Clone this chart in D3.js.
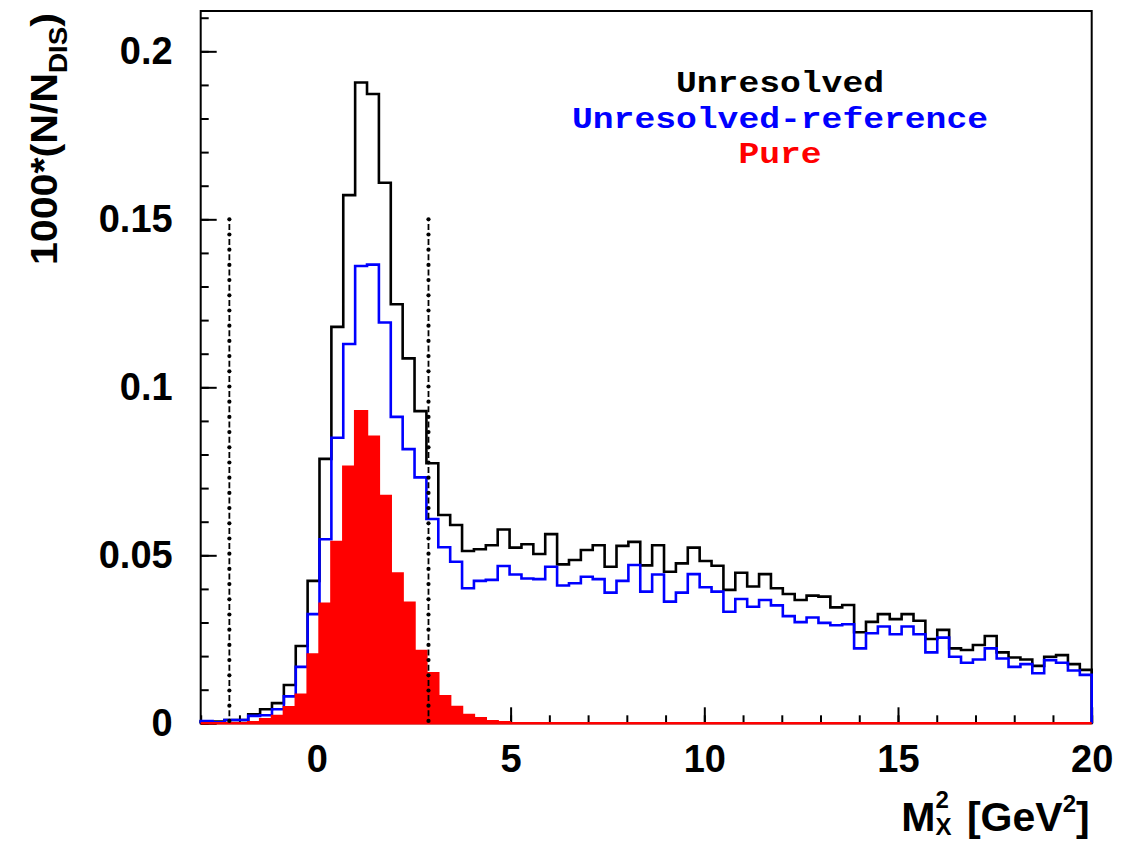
<!DOCTYPE html>
<html>
<head>
<meta charset="utf-8">
<script src="https://cdn.jsdelivr.net/npm/d3@7"></script>
<style>
  body { margin: 0; background: #fff; }
  svg text { font-family: "Liberation Sans", Arial, Helvetica, sans-serif; font-weight: bold; }
</style>
</head>
<body>
<svg id="chart" width="1143" height="842"></svg>
<script>
// Histogram binning: 75 equal bins on M_X^2 from -3 to 20 GeV^2
const binLow = -3;
const binHigh = 20;
const nBins = 75;

// 1000*(N/N_DIS) per bin
const unresolved = [
  0.0005, 0.0005, 0.0010, 0.0010, 0.0027, 0.0042, 0.0060, 0.0114, 0.0230, 0.0424,
  0.0787, 0.1180, 0.1572, 0.1907, 0.1873, 0.1609, 0.1247, 0.1086, 0.0929, 0.0774,
  0.0620, 0.0590, 0.0513, 0.0518, 0.0530, 0.0577, 0.0523, 0.0533, 0.0504, 0.0563,
  0.0473, 0.0486, 0.0516, 0.0530, 0.0466, 0.0528, 0.0540, 0.0470, 0.0530, 0.0451,
  0.0476, 0.0523, 0.0483, 0.0469, 0.0397, 0.0448, 0.0407, 0.0444, 0.0402, 0.0385,
  0.0367, 0.0380, 0.0377, 0.0345, 0.0352, 0.0271, 0.0302, 0.0325, 0.0310, 0.0325,
  0.0305, 0.0251, 0.0278, 0.0223, 0.0218, 0.0233, 0.0260, 0.0211, 0.0196, 0.0190,
  0.0171, 0.0198, 0.0203, 0.0176, 0.0159
];

const unresolvedReference = [
  0.0007, 0.0003, 0.0010, 0.0010, 0.0022, 0.0024, 0.0042, 0.0080, 0.0168, 0.0325,
  0.0548, 0.0850, 0.1129, 0.1361, 0.1365, 0.1193, 0.0912, 0.0816, 0.0732, 0.0608,
  0.0524, 0.0481, 0.0402, 0.0424, 0.0427, 0.0468, 0.0443, 0.0431, 0.0429, 0.0466,
  0.0410, 0.0417, 0.0436, 0.0429, 0.0389, 0.0424, 0.0471, 0.0392, 0.0443, 0.0362,
  0.0389, 0.0444, 0.0405, 0.0392, 0.0332, 0.0370, 0.0347, 0.0367, 0.0351, 0.0319,
  0.0301, 0.0315, 0.0299, 0.0292, 0.0295, 0.0223, 0.0268, 0.0288, 0.0265, 0.0288,
  0.0265, 0.0211, 0.0255, 0.0198, 0.0180, 0.0190, 0.0223, 0.0193, 0.0168, 0.0176,
  0.0149, 0.0188, 0.0180, 0.0157, 0.0144
];

const pure = [
  0.0000, 0.0000, 0.0000, 0.0000, 0.0003, 0.0012, 0.0022, 0.0048, 0.0085, 0.0205,
  0.0356, 0.0540, 0.0764, 0.0929, 0.0853, 0.0677, 0.0446, 0.0359, 0.0215, 0.0149,
  0.0081, 0.0049, 0.0025, 0.0015, 0.0006, 0.0003, 0.0000, 0.0000, 0.0000, 0.0000,
  0.0000, 0.0000, 0.0000, 0.0000, 0.0000, 0.0000, 0.0000, 0.0000, 0.0000, 0.0000,
  0.0000, 0.0000, 0.0000, 0.0000, 0.0000, 0.0000, 0.0000, 0.0000, 0.0000, 0.0000,
  0.0000, 0.0000, 0.0000, 0.0000, 0.0000, 0.0000, 0.0000, 0.0000, 0.0000, 0.0000,
  0.0000, 0.0000, 0.0000, 0.0000, 0.0000, 0.0000, 0.0000, 0.0000, 0.0000, 0.0000,
  0.0000, 0.0000, 0.0000, 0.0000, 0.0000
];

// Axis ticks
const xMajorTicks = [0, 5, 10, 15, 20];
const xMinorTicks = d3.range(-3, 21, 1);
const yMajorTicks = [0, 0.05, 0.1, 0.15, 0.2];
const yMajorLabels = ["0", "0.05", "0.1", "0.15", "0.2"];
const yMinorTicks = d3.range(0, 0.2105, 0.01);
const yMax = 0.212;

// Selection window (vertical cut lines) and their height
const cutPositions = [-2.26, 2.88];
const cutHeight = 0.15;

// Legend entries
const legendLabels = ["Unresolved", "Unresolved-reference", "Pure"];
const legendColors = ["#000000", "#0000ff", "#ff0000"];

// ---------------------------------------------------------------------------
const svg = d3.select("#chart");
const frame = { left: 200.7, right: 1091.7, top: 11, bottom: 723.3 };

const x = d3.scaleLinear().domain([binLow, binHigh]).range([frame.left, frame.right]);
const y = d3.scaleLinear().domain([0, yMax]).range([frame.bottom, frame.top]);

const binWidth = (binHigh - binLow) / nBins;
const edge = i => binLow + i * binWidth;

// Step outline points for a histogram, closed down to zero at both ends
function stepPoints(values) {
  const pts = [[edge(0), 0]];
  values.forEach((v, i) => {
    pts.push([edge(i), v]);
    pts.push([edge(i + 1), v]);
  });
  pts.push([edge(values.length), 0]);
  return pts;
}

const line = d3.line().x(d => x(d[0])).y(d => y(d[1]));
const area = d3.area().x(d => x(d[0])).y0(y(0)).y1(d => y(d[1]));

// Frame
svg.append("rect")
  .attr("x", frame.left).attr("y", frame.top)
  .attr("width", frame.right - frame.left).attr("height", frame.bottom - frame.top)
  .attr("fill", "none").attr("stroke", "#000").attr("stroke-width", 2);

// X axis: minor + major ticks drawn inward, labels below
const xMinor = svg.append("g").attr("transform", `translate(0,${frame.bottom})`)
  .call(d3.axisBottom(x).tickValues(xMinorTicks).tickSize(-8).tickFormat(""));
const xMajor = svg.append("g").attr("transform", `translate(0,${frame.bottom})`)
  .call(d3.axisBottom(x).tickValues(xMajorTicks).tickSize(-16).tickPadding(22).tickFormat(d3.format("d")));
[xMinor, xMajor].forEach(g => {
  g.select(".domain").remove();
  g.selectAll(".tick line").attr("stroke", "#000").attr("stroke-width", 2);
});
xMajor.selectAll(".tick text")
  .attr("font-size", 38).attr("fill", "#000")
  .style("font-family", "'Liberation Sans', Arial, sans-serif").style("font-weight", "bold");

// Y axis
const yMinor = svg.append("g").attr("transform", `translate(${frame.left},0)`)
  .call(d3.axisLeft(y).tickValues(yMinorTicks).tickSize(-8).tickFormat(""));
const yMajor = svg.append("g").attr("transform", `translate(${frame.left},0)`)
  .call(d3.axisLeft(y).tickValues(yMajorTicks).tickSize(-16).tickPadding(28)
    .tickFormat((d, i) => yMajorLabels[i]));
[yMinor, yMajor].forEach(g => {
  g.select(".domain").remove();
  g.selectAll(".tick line").attr("stroke", "#000").attr("stroke-width", 2);
});
yMajor.selectAll(".tick text")
  .attr("font-size", 38).attr("fill", "#000")
  .style("font-family", "'Liberation Sans', Arial, sans-serif").style("font-weight", "bold");

// Histograms
const plot = svg.append("g");

plot.append("path")
  .attr("d", line(stepPoints(unresolved)))
  .attr("fill", "none").attr("stroke", legendColors[0])
  .attr("stroke-width", 2.6).attr("stroke-linejoin", "miter");

plot.append("path")
  .attr("d", line(stepPoints(unresolvedReference)))
  .attr("fill", "none").attr("stroke", legendColors[1])
  .attr("stroke-width", 2.6).attr("stroke-linejoin", "miter");

plot.append("path")
  .attr("d", area(stepPoints(pure)))
  .attr("fill", legendColors[2]).attr("stroke", legendColors[2])
  .attr("stroke-width", 2.4);

// Cut lines: dash segments with round dots between them (drawn top-down)
const cutGroup = plot.append("g");
cutGroup.selectAll("line.cut").data(cutPositions).join("line")
  .attr("class", "cut")
  .attr("x1", d => x(d)).attr("x2", d => x(d))
  .attr("y1", y(cutHeight)).attr("y2", y(0))
  .attr("stroke", "#000").attr("stroke-width", 1.8)
  .attr("stroke-dasharray", "0,4.6,6,4.6");
cutPositions.forEach(c => {
  const top = y(cutHeight), bottom = y(0);
  const dots = d3.range(top, bottom, 15.2);
  cutGroup.selectAll(null).data(dots).join("circle")
    .attr("cx", x(c)).attr("cy", d => d)
    .attr("r", 2.1).attr("fill", "#000");
});

// Y axis title: 1000*(N/N_DIS)
const yTitle = svg.append("text")
  .attr("transform", `translate(57,${frame.top + 2}) rotate(-90)`)
  .attr("text-anchor", "end")
  .attr("font-size", 37).attr("fill", "#000")
  .attr("textLength", 252).attr("lengthAdjust", "spacingAndGlyphs");
yTitle.append("tspan").text("1000*(N/N");
yTitle.append("tspan").attr("font-size", 25).attr("dy", 10).text("DIS");
yTitle.append("tspan").attr("dy", -10).text(")");

// X axis title: M_X^2 [GeV^2] (superscript and subscript stacked after M)
const xTitle = svg.append("text")
  .attr("x", frame.right - 2).attr("y", 831)
  .attr("text-anchor", "end")
  .attr("font-size", 41).attr("fill", "#000");
xTitle.append("tspan").text("M");
xTitle.append("tspan").attr("font-size", 24).attr("dy", -23).text("2");
xTitle.append("tspan").attr("font-size", 24).attr("dx", -13.3).attr("dy", 27).text("X");
xTitle.append("tspan").attr("dy", -4).attr("dx", 4).text(" [GeV");
xTitle.append("tspan").attr("font-size", 24).attr("dy", -19).text("2");
xTitle.append("tspan").attr("dy", 19).text("]");

// Legend (text entries)
const legendY = [91.7, 128.3, 163.3];
svg.selectAll("text.legend").data(legendLabels).join("text")
  .attr("class", "legend")
  .attr("x", 780).attr("y", (d, i) => legendY[i])
  .attr("text-anchor", "middle")
  .attr("fill", (d, i) => legendColors[i])
  .attr("font-size", 29)
  .attr("textLength", d => d.length * 20.8)
  .attr("lengthAdjust", "spacingAndGlyphs")
  .style("font-family", "'Liberation Mono', 'Courier New', monospace")
  .style("font-weight", "bold")
  .text(d => d);
</script>
</body>
</html>
